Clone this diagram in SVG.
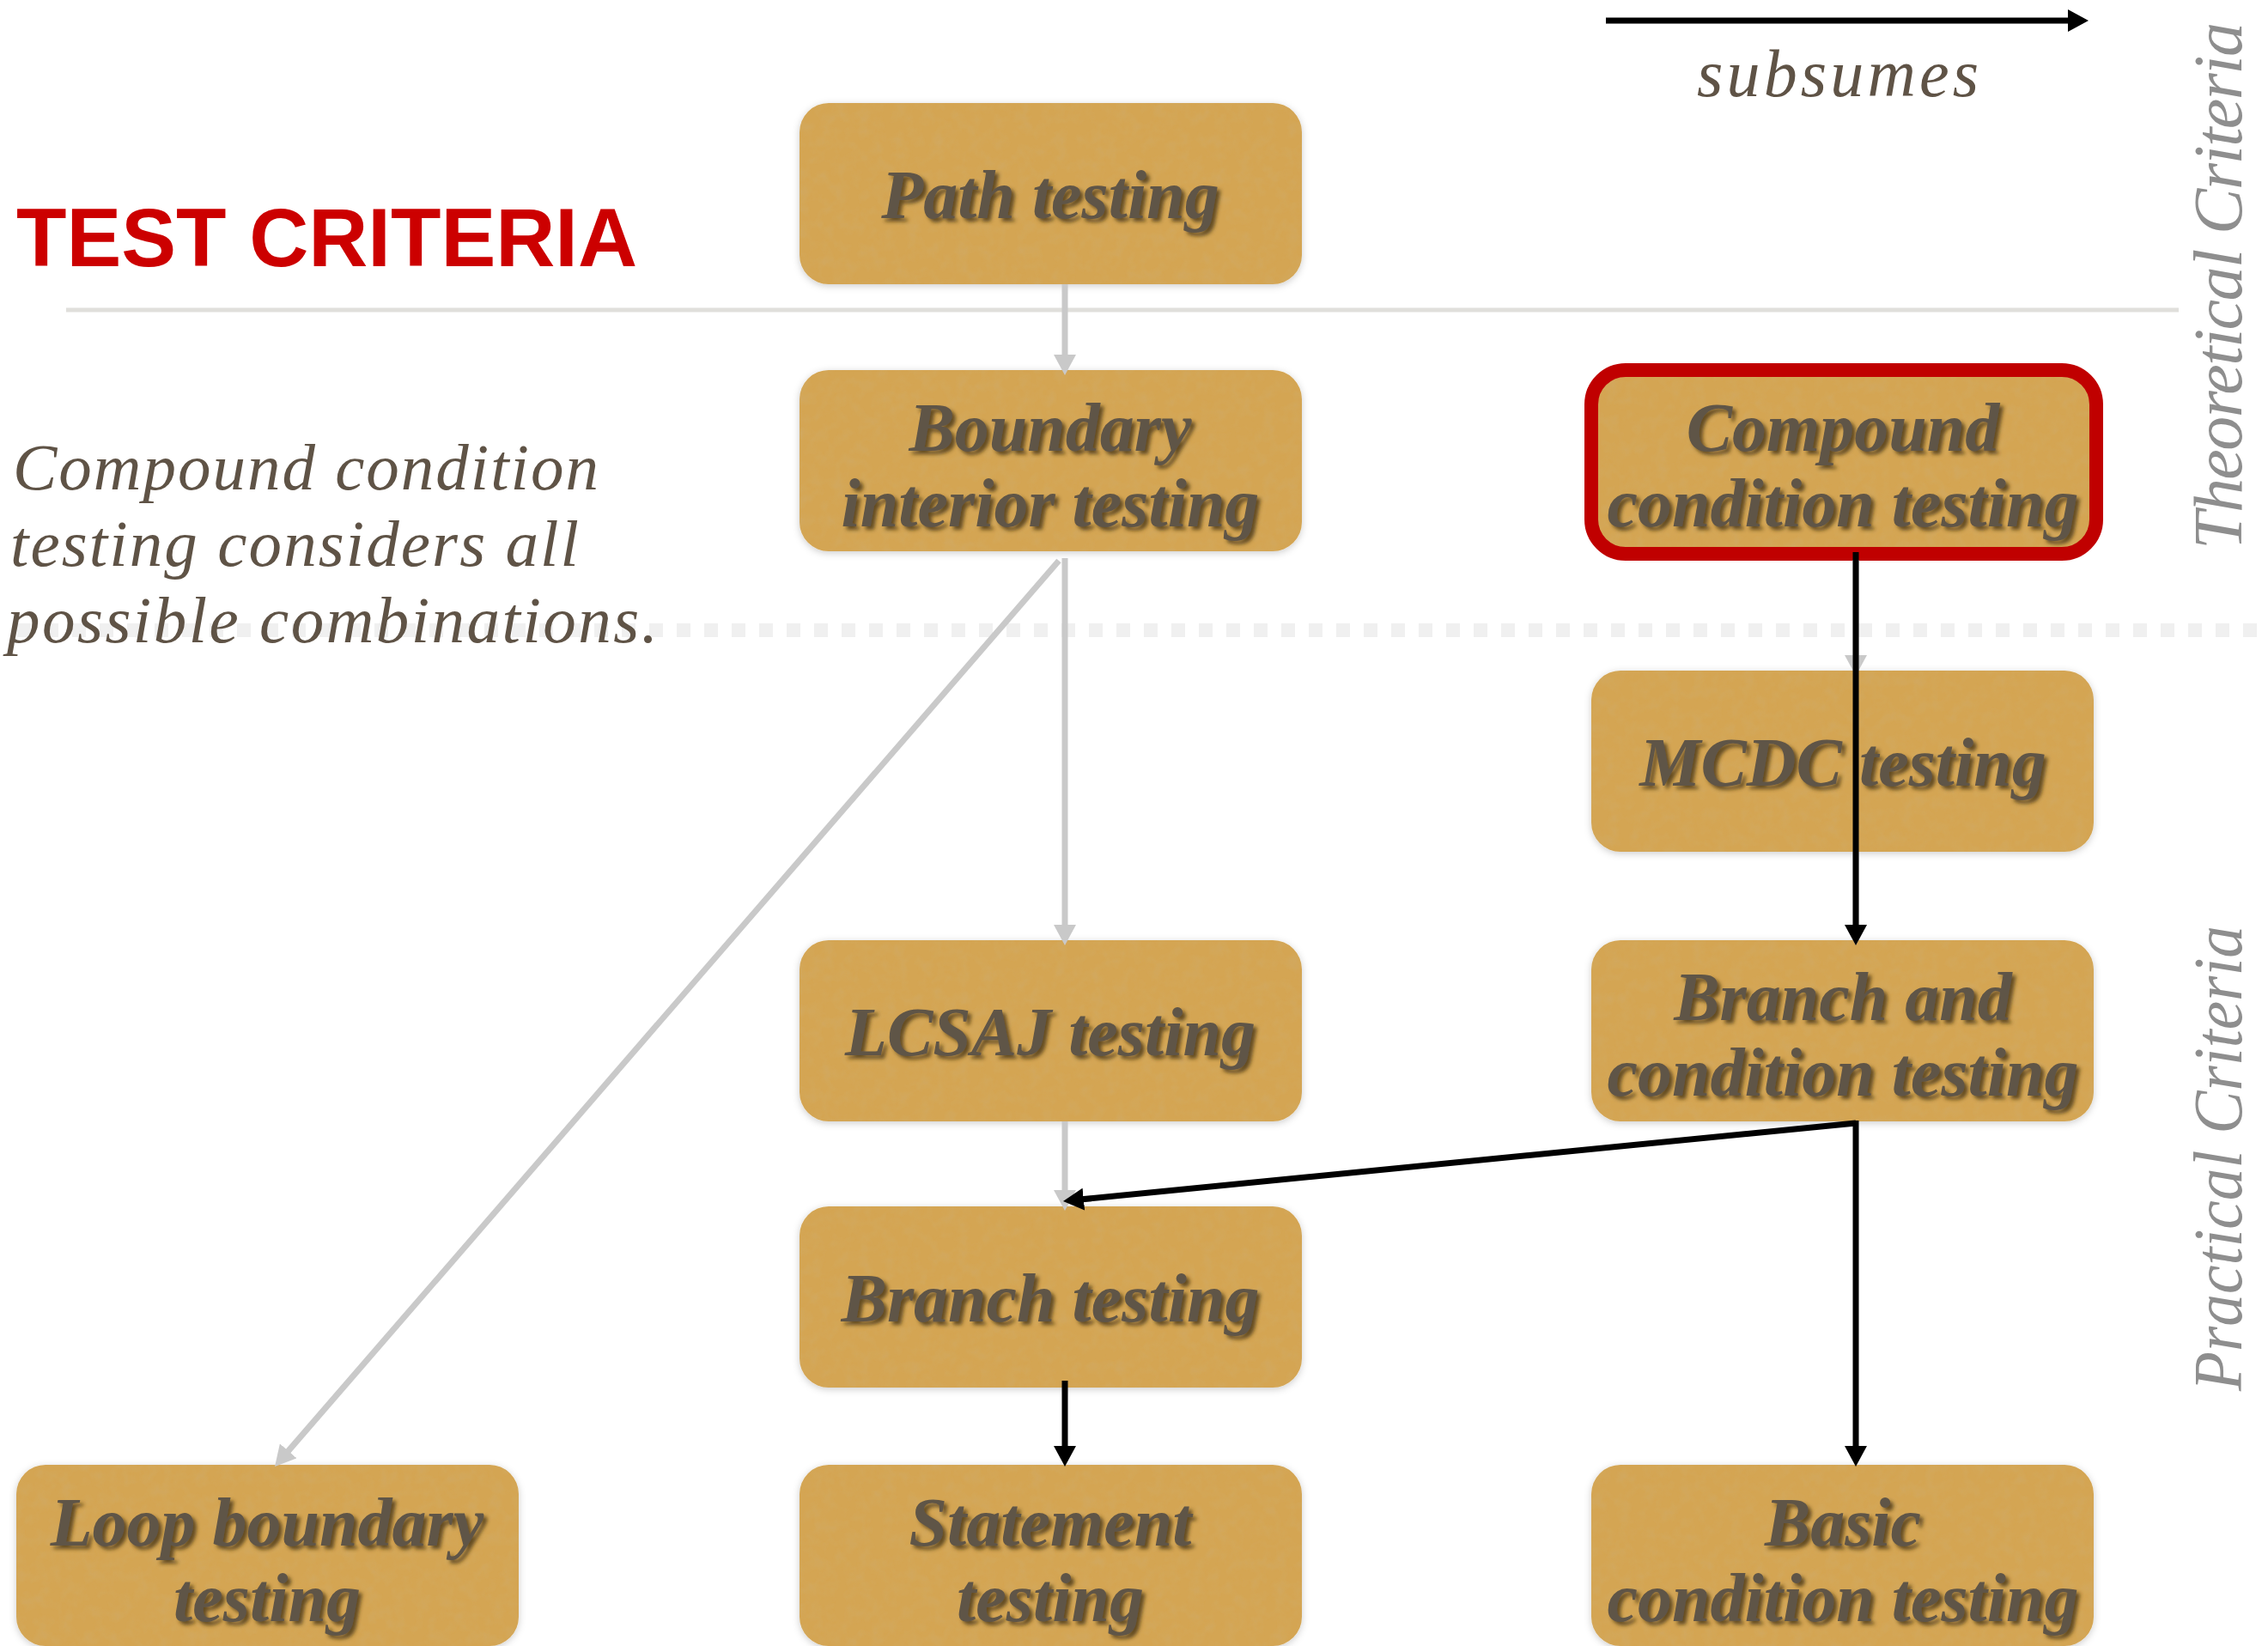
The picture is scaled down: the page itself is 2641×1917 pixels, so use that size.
<svg xmlns="http://www.w3.org/2000/svg" width="2641" height="1917" viewBox="0 0 2641 1917">
  <style>
    .card { fill: #d4a553; filter: url(#card); }
    .hilite { fill: none; stroke: #c00000; stroke-width: 16; }
    .label { font-family: "Liberation Serif", "Times New Roman", serif; font-style: italic; font-weight: bold; font-size: 80px; fill: #5f5446; text-anchor: middle; filter: url(#emboss); }
    .note { font-family: "Liberation Serif", "Times New Roman", serif; font-style: italic; fill: #5f5346; }
    .side { font-family: "Liberation Serif", "Times New Roman", serif; font-style: italic; font-size: 80px; fill: #8e8e8e; }
    .title { font-family: "Liberation Sans", Arial, sans-serif; font-weight: bold; font-size: 96px; fill: #cc0000; }
    .gray { fill: none; stroke: #c9c9c9; stroke-width: 7; marker-end: url(#headGray); }
    .black { fill: none; stroke: #000; stroke-width: 7; marker-end: url(#headBlack); }
  </style>
  <defs>
    <filter id="card" x="-5%" y="-10%" width="110%" height="120%">
      <feTurbulence type="fractalNoise" baseFrequency="0.07" numOctaves="3" seed="4" result="noise"/>
      <feColorMatrix in="noise" type="matrix" values="0 0 0 0 0.62  0 0 0 0 0.44  0 0 0 0 0.18  0.55 0 0 0 -0.22" result="tint"/>
      <feComposite in="tint" in2="SourceGraphic" operator="in" result="grain"/>
      <feGaussianBlur in="SourceAlpha" stdDeviation="4" result="blur"/>
      <feOffset in="blur" dy="2" result="off"/>
      <feFlood flood-color="#000" flood-opacity="0.2"/>
      <feComposite in2="off" operator="in" result="shadow"/>
      <feMerge>
        <feMergeNode in="shadow"/>
        <feMergeNode in="SourceGraphic"/>
        <feMergeNode in="grain"/>
      </feMerge>
    </filter>
    <filter id="emboss" x="-10%" y="-30%" width="120%" height="160%">
      <feGaussianBlur in="SourceAlpha" stdDeviation="2.2" result="b"/>
      <feOffset in="b" dx="4" dy="4" result="o"/>
      <feFlood flood-color="#3f2f12" flood-opacity="0.75"/>
      <feComposite in2="o" operator="in" result="s"/>
      <feMerge>
        <feMergeNode in="s"/>
        <feMergeNode in="SourceGraphic"/>
      </feMerge>
    </filter>
    <marker id="headGray" markerUnits="userSpaceOnUse" markerWidth="26" markerHeight="26" refX="10" refY="13" orient="auto">
      <path d="M0,0 L24,13 L0,26 Z" fill="#c9c9c9"/>
    </marker>
    <marker id="headBlack" markerUnits="userSpaceOnUse" markerWidth="26" markerHeight="26" refX="10" refY="13" orient="auto">
      <path d="M0,0 L24,13 L0,26 Z" fill="#000"/>
    </marker>
  </defs>

  <rect width="2641" height="1917" fill="#fff"/>

  <!-- section rules -->
  <g id="rules">
    <line x1="77" y1="361" x2="2537" y2="361" stroke="#e0dfdb" stroke-width="5"/>
    <line x1="20" y1="734" x2="2641" y2="734" stroke="#f0f0f0" stroke-width="16" stroke-dasharray="16 16"/>
  </g>

  <!-- headings and side notes -->
  <g id="annotations">
    <text class="title" x="19" y="310" textLength="723" lengthAdjust="spacingAndGlyphs">TEST CRITERIA</text>
    <text class="note" font-size="77" x="15" y="570" textLength="682" lengthAdjust="spacing">Compound condition</text>
    <text class="note" font-size="77" x="12" y="659" textLength="662" lengthAdjust="spacing">testing considers all</text>
    <text class="note" font-size="77" x="8" y="748" textLength="758" lengthAdjust="spacing">possible combinations.</text>
    <text class="note" font-size="78" x="1976" y="112" textLength="328" lengthAdjust="spacing">subsumes</text>
    <text class="side" font-size="76" transform="translate(2610,640) rotate(-90)" textLength="614" lengthAdjust="spacing">Theoretical Criteria</text>
    <text class="side" transform="translate(2610,1620) rotate(-90)" textLength="542" lengthAdjust="spacingAndGlyphs">Practical Criteria</text>
  </g>

  <!-- criteria nodes -->
  <g id="path-testing">
    <rect class="card" x="931" y="120" width="585" height="211" rx="34"/>
    <text class="label" x="1223" y="254">Path testing</text>
  </g>
  <g id="boundary-interior-testing">
    <rect class="card" x="931" y="431" width="585" height="211" rx="34"/>
    <text class="label" x="1223" y="525">Boundary</text>
    <text class="label" x="1223" y="613">interior testing</text>
  </g>
  <g id="compound-condition-testing">
    <rect class="card" x="1853" y="431" width="588" height="214" rx="40"/>
    <rect class="hilite" x="1853" y="431" width="588" height="214" rx="40"/>
    <text class="label" x="2146" y="525">Compound</text>
    <text class="label" x="2146" y="613">condition testing</text>
  </g>
  <g id="mcdc-testing">
    <rect class="card" x="1853" y="781" width="585" height="211" rx="34"/>
    <text class="label" x="2146" y="915">MCDC testing</text>
  </g>
  <g id="lcsaj-testing">
    <rect class="card" x="931" y="1095" width="585" height="211" rx="34"/>
    <text class="label" x="1223" y="1229">LCSAJ testing</text>
  </g>
  <g id="branch-and-condition-testing">
    <rect class="card" x="1853" y="1095" width="585" height="211" rx="34"/>
    <text class="label" x="2146" y="1188">Branch and</text>
    <text class="label" x="2146" y="1276">condition testing</text>
  </g>
  <g id="branch-testing">
    <rect class="card" x="931" y="1405" width="585" height="211" rx="34"/>
    <text class="label" x="1223" y="1539">Branch testing</text>
  </g>
  <g id="loop-boundary-testing">
    <rect class="card" x="19" y="1706" width="585" height="211" rx="34"/>
    <text class="label" x="311" y="1800">Loop boundary</text>
    <text class="label" x="311" y="1888">testing</text>
  </g>
  <g id="statement-testing">
    <rect class="card" x="931" y="1706" width="585" height="211" rx="34"/>
    <text class="label" x="1223" y="1800">Statement</text>
    <text class="label" x="1223" y="1888">testing</text>
  </g>
  <g id="basic-condition-testing">
    <rect class="card" x="1853" y="1706" width="585" height="211" rx="34"/>
    <text class="label" x="2146" y="1800">Basic</text>
    <text class="label" x="2146" y="1888">condition testing</text>
  </g>

  <!-- subsumption edges -->
  <g id="connectors">
    <path class="gray" d="M1240,331 V423"/>
    <path class="gray" d="M1240,650 V1087"/>
    <path class="gray" d="M1240,1306 V1396"/>
    <path class="gray" d="M1233,653 L329.2,1697.4"/>
    <path class="gray" d="M2161,652 V773"/>
    <path class="gray" d="M2161,992 V1087"/>
    <path class="black" d="M2161,643 V1087"/>
    <path class="black" d="M2161,1305 V1694"/>
    <path class="black" d="M2161,1308 L1251.9,1397.6"/>
    <path class="black" d="M1240,1608 V1694"/>
    <path class="black" stroke-width="8" d="M1870,24 H2418"/>
  </g>
</svg>
